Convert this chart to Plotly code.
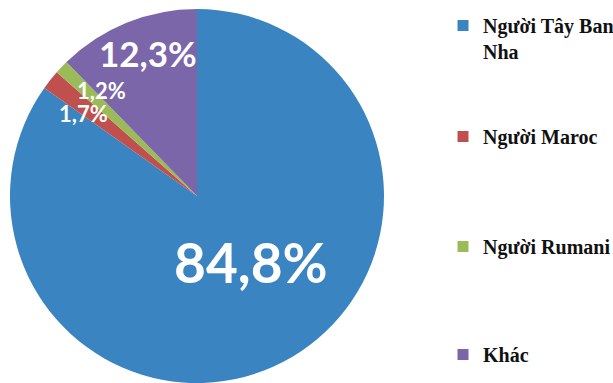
import plotly.graph_objects as go

# ---- data ----
categories = ["Người Tây Ban Nha", "Người Maroc", "Người Rumani", "Khác"]
legend_labels = ["Người Tây Ban<br>Nha", "Người Maroc", "Người Rumani", "Khác"]
values = [84.8, 1.7, 1.2, 12.3]
value_labels = ["84,8%", "1,7%", "1,2%", "12,3%"]

# ---- styles ----
colors = ["#3A84C1", "#C0504D", "#9BBB59", "#7B66A9"]
label_sizes = [55, 22, 22, 35]
label_pos = [(251, 262), (83, 114), (101, 90), (148, 53)]  # pixel centres of the value labels
legend_tops = [6, 117, 227, 335]  # pixel tops of legend entries

W, H = 613, 383

fig = go.Figure()
fig.add_trace(go.Pie(
    labels=categories,
    values=values,
    marker=dict(colors=colors, line=dict(width=0)),
    sort=False,
    direction="clockwise",
    rotation=0,
    textinfo="none",
    showlegend=False,
    domain=dict(x=[10 / W, 384 / W], y=[0.0, 374 / H]),
))

# legend entries (one legend per entry so spacing matches the original)
for i, (lab, col) in enumerate(zip(legend_labels, colors)):
    lname = "legend" if i == 0 else f"legend{i+1}"
    fig.add_trace(go.Scatter(
        x=[None], y=[None], mode="markers", name=lab,
        marker=dict(symbol="square", size=11, color=col),
        legend=lname, showlegend=True, hoverinfo="skip",
    ))
    fig.update_layout(**{lname: dict(
        x=443 / W, xanchor="left",
        y=1 - legend_tops[i] / H, yanchor="top",
        bgcolor="rgba(0,0,0,0)", borderwidth=0,
        valign="top", itemwidth=30,
        font=dict(family="Liberation Serif", size=20, color="#111111", weight="bold"),
    )})

for txt, sz, (px, py) in zip(value_labels, label_sizes, label_pos):
    fig.add_annotation(
        x=px / W, y=1 - py / H, xref="paper", yref="paper",
        text=txt, showarrow=False, xanchor="center", yanchor="middle",
        font=dict(family="Lato", size=sz, color="white", weight="bold"),
    )

fig.update_layout(
    width=W, height=H,
    margin=dict(l=0, r=0, t=0, b=0, autoexpand=False),
    paper_bgcolor="white", plot_bgcolor="white",
    xaxis=dict(visible=False), yaxis=dict(visible=False),
)

fig.write_html(
    "out.html",
    config={"displayModeBar": False},
    post_script="document.body.style.margin='0px';document.body.style.overflow='hidden';",
)
